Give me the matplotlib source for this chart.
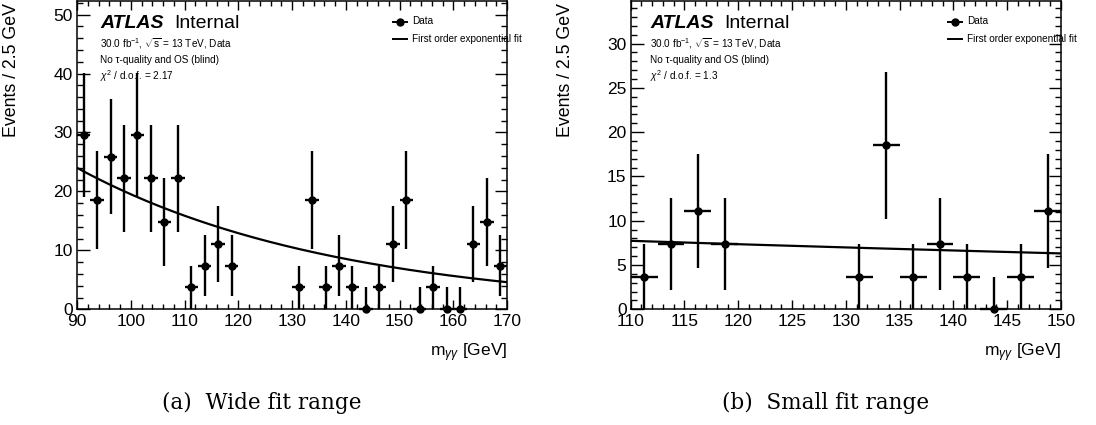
"""Diphoton mass sideband fits: wide vs small fit range (ATLAS internal style)."""
import matplotlib
import numpy as np

matplotlib.use("Agg")
import matplotlib.pyplot as plt  # noqa: E402
from matplotlib.lines import Line2D  # noqa: E402

plt.rcParams["font.family"] = ["Liberation Sans", "DejaVu Sans"]
plt.rcParams["mathtext.fontset"] = "custom"
plt.rcParams["mathtext.rm"] = "Liberation Sans"
plt.rcParams["mathtext.it"] = "Liberation Sans:italic"
plt.rcParams["mathtext.bf"] = "Liberation Sans:bold"

# ---- data (events / 2.5 GeV, blinded 120-130 GeV) ----
wide_centers = [91.25, 93.75, 96.25, 98.75, 101.25, 103.75, 106.25, 108.75,
                111.25, 113.75, 116.25, 118.75,
                131.25, 133.75, 136.25, 138.75, 141.25, 143.75, 146.25, 148.75,
                151.25, 153.75, 156.25, 158.75, 161.25, 163.75, 166.25, 168.75]
wide_values = [29.6, 18.5, 25.9, 22.2, 29.6, 22.2, 14.8, 22.2,
               3.7, 7.4, 11.1, 7.4,
               3.7, 18.5, 3.7, 7.4, 3.7, 0.0, 3.7, 11.1,
               18.5, 0.0, 3.7, 0.0, 0.0, 11.1, 14.8, 7.4]
wide_err_lo = [10.5, 8.3, 9.8, 9.1, 10.5, 9.1, 7.4, 9.1,
               3.7, 5.2, 6.4, 5.2,
               3.7, 8.3, 3.7, 5.2, 3.7, 0.0, 3.7, 6.4,
               8.3, 0.0, 3.7, 0.0, 0.0, 6.4, 7.4, 5.2]
wide_err_hi = [10.5, 8.3, 9.8, 9.1, 10.5, 9.1, 7.4, 9.1,
               3.7, 5.2, 6.4, 5.2,
               3.7, 8.3, 3.7, 5.2, 3.7, 3.7, 3.7, 6.4,
               8.3, 3.7, 3.7, 3.7, 3.7, 6.4, 7.4, 5.2]

small_centers = [111.25, 113.75, 116.25, 118.75,
                 131.25, 133.75, 136.25, 138.75, 141.25, 143.75, 146.25, 148.75]
small_values = [3.7, 7.4, 11.1, 7.4, 3.7, 18.5, 3.7, 7.4, 3.7, 0.0, 3.7, 11.1]
small_err_lo = [3.7, 5.2, 6.4, 5.2, 3.7, 8.3, 3.7, 5.2, 3.7, 0.0, 3.7, 6.4]
small_err_hi = [3.7, 5.2, 6.4, 5.2, 3.7, 8.3, 3.7, 5.2, 3.7, 3.7, 3.7, 6.4]

# first order exponential fits: N * exp(slope * (m - m0))
wide_fit = dict(m0=90.0, m1=170.0, norm=24.0, slope=-0.02065, chi2="2.17")
small_fit = dict(m0=110.0, m1=150.0, norm=7.73, slope=-0.00508, chi2="1.3")

HALF_BIN = 1.25
W, H = 1096, 425


def fx(px):
    return px / W


def fy(py):
    return 1 - py / H


def style_axes(ax, xlim, ylim, xmaj, xmin, ymaj, ymin):
    ax.set_xlim(*xlim)
    ax.set_ylim(*ylim)
    ax.set_xticks(np.arange(xlim[0], xlim[1] + 0.01, xmaj))
    ax.set_xticks(np.arange(xlim[0], xlim[1] + 0.01, xmin), minor=True)
    ax.set_yticks(np.arange(0, ylim[1], ymaj))
    ax.set_yticks(np.arange(0, ylim[1], ymin), minor=True)
    ax.tick_params(which="both", direction="in", top=True, right=True,
                   width=1.0, labelsize=12.5)
    ax.tick_params(axis="x", which="major", length=6.5, pad=3.5)
    ax.tick_params(axis="x", which="minor", length=3.5)
    ax.tick_params(axis="y", which="major", length=9, pad=3)
    ax.tick_params(axis="y", which="minor", length=4.5)
    for s in ax.spines.values():
        s.set_linewidth(1.1)


def draw_panel(ax, centers, values, lo, hi, fit, px0, legend_x):
    ax.errorbar(centers, values, yerr=[lo, hi], xerr=HALF_BIN, fmt="o",
                color="black", ms=5, elinewidth=1.7, capsize=0, clip_on=False,
                zorder=3)
    m = np.linspace(fit["m0"], fit["m1"], 200)
    ax.plot(m, fit["norm"] * np.exp(fit["slope"] * (m - fit["m0"])),
            color="black", lw=1.6, zorder=2)
    ax.set_xlabel(r"m$_{\gamma\gamma}$ [GeV]", loc="right", fontsize=12.5)
    ax.xaxis.set_label_coords(1.0, -0.105)

    # ATLAS label block
    fig.text(fx(px0), fy(24), "ATLAS", fontsize=14, fontweight="bold",
             fontstyle="italic", va="center")
    fig.text(fx(px0 + 74), fy(24), "Internal", fontsize=14, va="center")
    fig.text(fx(px0), fy(44),
             r"30.0 fb$^{\mathregular{-1}}$, $\sqrt{\mathregular{s}}$ = 13 TeV, Data",
             fontsize=7.2, va="center")
    fig.text(fx(px0), fy(60), "No τ-quality and OS (blind)", fontsize=7.2,
             va="center")
    fig.text(fx(px0), fy(76), r"$\chi^{\mathregular{2}}$ / d.o.f. = " + fit["chi2"],
             fontsize=7.2, va="center")

    # legend
    fig.add_artist(Line2D([fx(legend_x - 7), fx(legend_x + 7)], [fy(21.5)] * 2,
                          color="black", lw=1.4, transform=fig.transFigure))
    fig.add_artist(Line2D([fx(legend_x)], [fy(21.5)], color="black", marker="o",
                          ms=5, transform=fig.transFigure))
    fig.text(fx(legend_x + 12), fy(21.5), "Data", fontsize=7.2, va="center")
    fig.add_artist(Line2D([fx(legend_x - 7), fx(legend_x + 7)], [fy(38.5)] * 2,
                          color="black", lw=1.4, transform=fig.transFigure))
    fig.text(fx(legend_x + 12), fy(38.5), "First order exponential fit",
             fontsize=7.2, va="center")


fig = plt.figure(figsize=(W / 100, H / 100), dpi=100)
ax1 = fig.add_axes([fx(77), fy(309.3), fx(430), 308.3 / H])
ax2 = fig.add_axes([fx(630.7), fy(309.3), fx(430.3), 308.3 / H])

style_axes(ax1, (90, 170), (0, 52.3), 10, 2, 10, 2)
style_axes(ax2, (110, 150), (0, 34.8), 5, 1, 5, 1)

draw_panel(ax1, wide_centers, wide_values, wide_err_lo, wide_err_hi,
           wide_fit, 100, 400)
draw_panel(ax2, small_centers, small_values, small_err_lo, small_err_hi,
           small_fit, 650, 955)

# y-axis titles, ROOT style (anchored near the top of the frame)
for xpix in (12, 566):
    fig.text(fx(xpix), fy(137), "Events / 2.5 GeV", rotation=90,
             fontsize=12.8, ha="center", va="bottom")

fig.text(fx(262), fy(403), "(a)  Wide fit range", fontsize=15.5,
         family="DejaVu Serif", ha="center", va="center")
fig.text(fx(826), fy(403), "(b)  Small fit range", fontsize=15.5,
         family="DejaVu Serif", ha="center", va="center")

fig.savefig("out.png", dpi=100)
